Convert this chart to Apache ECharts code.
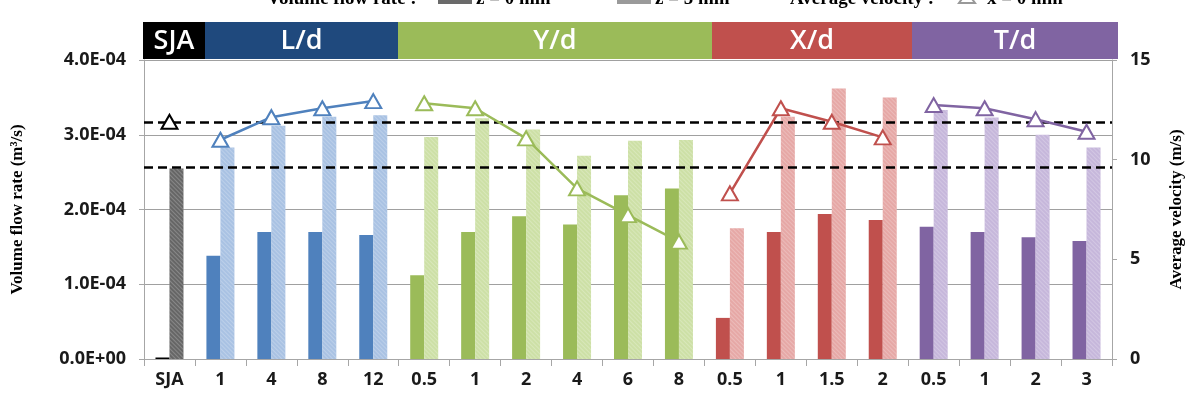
<!DOCTYPE html>
<html>
<head>
<meta charset="utf-8">
<script src="https://cdn.jsdelivr.net/npm/echarts@6/dist/echarts.min.js"></script>
<style>
  html, body { margin: 0; padding: 0; background: #fff; }
  #chart { width: 1200px; height: 396px; }
</style>
</head>
<body>
<div id="chart"></div>
<script>
// categories along the x axis and the group each one belongs to
const categories = ['SJA', '1', '4', '8', '12', '0.5', '1', '2', '4', '6', '8', '0.5', '1', '1.5', '2', '0.5', '1', '2', '3']
const groupOfCategory = [0, 1, 1, 1, 1, 2, 2, 2, 2, 2, 2, 3, 3, 3, 3, 4, 4, 4, 4]
const groupNames = ['SJA', 'L/d', 'Y/d', 'X/d', 'T/d']

// volume flow rate (m3/s)
const flowZ0 = [0.000002, 1.38e-4, 1.70e-4, 1.70e-4, 1.66e-4, 1.12e-4, 1.70e-4, 1.91e-4, 1.80e-4, 2.19e-4, 2.28e-4, 0.55e-4, 1.70e-4, 1.94e-4, 1.86e-4, 1.77e-4, 1.70e-4, 1.63e-4, 1.58e-4]
const flowZ5 = [2.55e-4, 2.83e-4, 3.12e-4, 3.24e-4, 3.26e-4, 2.97e-4, 3.22e-4, 3.07e-4, 2.72e-4, 2.92e-4, 2.93e-4, 1.75e-4, 3.24e-4, 3.62e-4, 3.50e-4, 3.33e-4, 3.23e-4, 3.00e-4, 2.83e-4]
// average velocity (m/s)
const velocityX0 = [11.9, 11.0, 12.13, 12.58, 12.94, 12.83, 12.58, 11.07, 8.56, 7.22, 5.89, 8.31, 12.58, 11.9, 11.12, 12.74, 12.58, 12.03, 11.4]
// dashed reference levels on the flow axis
const referenceFlow = [3.17e-4, 2.56e-4]

const flowTickLabels = ['0.0E+00', '1.0E-04', '2.0E-04', '3.0E-04', '4.0E-04']
const velocityTickLabels = ['0', '5', '10', '15']

const solidColors = ['#000000', '#4f81bd', '#9bbb59', '#c0504d', '#8064a2']
const hatchColors = ['#666666', '#a9c2e3', '#cde0a6', '#e6a8a6', '#c6b7db']
const bandColors = ['#000000', '#1f497d', '#9bbb59', '#c0504d', '#8064a2']
const bandEdgesPx = [143, 205, 398, 712, 912, 1118]

const tickFont = "'Open Sans', sans-serif"
const serif = "'Liberation Serif', 'DejaVu Serif', serif"
const axisGray = '#a6a6a6'

const hatchDecal = {
  symbol: 'rect',
  symbolSize: 1,
  color: 'rgba(255,255,255,0.22)',
  dashArrayX: [1, 0],
  dashArrayY: [1, 2],
  rotation: Math.PI / 4,
}

const chart = echarts.init(document.getElementById('chart'))

const bandGraphics = []
groupNames.forEach((name, g) => {
  const x0 = bandEdgesPx[g]
  const x1 = bandEdgesPx[g + 1]
  bandGraphics.push({
    type: 'rect',
    shape: { x: x0, y: 22, width: x1 - x0, height: 37 },
    style: { fill: bandColors[g] },
    silent: true,
  })
  bandGraphics.push({
    type: 'text',
    x: (x0 + x1) / 2,
    y: 41,
    style: {
      text: name,
      fill: '#fff',
      font: "600 27px 'Open Sans', sans-serif",
      textAlign: 'center',
      textVerticalAlign: 'middle',
    },
    silent: true,
  })
})

// legend sits partly above the page edge, as in the source figure
const legendFont = 'bold 19px ' + serif
const legendY = 9
const legendGraphics = [
  { type: 'text', x: 267, y: legendY, style: { text: 'Volume flow rate :', font: legendFont, fill: '#000', textVerticalAlign: 'bottom' } },
  { type: 'rect', shape: { x: 438, y: -8, width: 34, height: 12 }, style: { fill: '#6a6a6a', decal: hatchDecal } },
  { type: 'text', x: 476, y: legendY, style: { text: 'z = 0 mm', font: legendFont, fill: '#000', textVerticalAlign: 'bottom' } },
  { type: 'rect', shape: { x: 617, y: -8, width: 34, height: 12 }, style: { fill: '#9a9a9a', decal: hatchDecal } },
  { type: 'text', x: 655, y: legendY, style: { text: 'z = 5 mm', font: legendFont, fill: '#000', textVerticalAlign: 'bottom' } },
  { type: 'text', x: 790, y: legendY, style: { text: 'Average velocity :', font: legendFont, fill: '#000', textVerticalAlign: 'bottom' } },
  { type: 'line', shape: { x1: 952, y1: -2, x2: 983, y2: -2 }, style: { stroke: '#999', lineWidth: 2 } },
  { type: 'polygon', shape: { points: [[967, -8], [959, 3], [975, 3]] }, style: { fill: '#fff', stroke: '#999', lineWidth: 2 } },
  { type: 'text', x: 987, y: legendY, style: { text: 'x = 0 mm', font: legendFont, fill: '#000', textVerticalAlign: 'bottom' } },
]

const lineSeries = groupNames.map((name, g) => ({
  name: name + ' velocity',
  type: 'line',
  yAxisIndex: 1,
  data: velocityX0.map((v, i) => (groupOfCategory[i] === g ? v : null)),
  connectNulls: false,
  symbol: 'triangle',
  symbolSize: [16, 14],
  lineStyle: { color: solidColors[g], width: 2.5 },
  itemStyle: { color: '#fff', borderColor: solidColors[g], borderWidth: 2 },
  z: 5,
}))

const option = {
  animation: false,
  grid: { left: 144, right: 88, top: 60, bottom: 37 },
  xAxis: {
    type: 'category',
    data: categories,
    axisLine: { lineStyle: { color: axisGray, width: 1 } },
    axisTick: { show: true, length: 7, lineStyle: { color: axisGray } },
    axisLabel: {
      interval: 0,
      margin: 12,
      color: '#1a1a1a',
      fontSize: 18,
      fontWeight: 'bold',
      fontFamily: tickFont,
    },
  },
  yAxis: [
    {
      type: 'value',
      min: 0,
      max: 4e-4,
      interval: 1e-4,
      name: 'Volume flow rate (m³/s)',
      nameLocation: 'middle',
      nameGap: 118,
      nameTextStyle: { fontFamily: serif, fontWeight: 'bold', fontSize: 17, color: '#000' },
      axisLine: { show: true, lineStyle: { color: axisGray } },
      axisTick: { show: true, length: 5, lineStyle: { color: axisGray } },
      splitLine: { show: true, lineStyle: { color: '#a0a0a0', width: 1 } },
      axisLabel: {
        margin: 18,
        color: '#1a1a1a',
        fontSize: 18,
        fontWeight: 'bold',
        fontFamily: tickFont,
        formatter: (v) => flowTickLabels[Math.round(v / 1e-4)],
      },
    },
    {
      type: 'value',
      min: 0,
      max: 15,
      interval: 5,
      name: 'Average velocity (m/s)',
      nameLocation: 'middle',
      nameRotate: 90,
      nameGap: 56,
      nameTextStyle: { fontFamily: serif, fontWeight: 'bold', fontSize: 17, color: '#000' },
      axisLine: { show: true, lineStyle: { color: axisGray } },
      axisTick: { show: true, length: 5, lineStyle: { color: axisGray } },
      splitLine: { show: false },
      axisLabel: {
        margin: 18,
        color: '#1a1a1a',
        fontSize: 18,
        fontWeight: 'bold',
        fontFamily: tickFont,
        formatter: (v) => velocityTickLabels[Math.round(v / 5)],
      },
    },
  ],
  series: [
    {
      name: 'z = 0 mm',
      type: 'bar',
      barWidth: 14,
      barGap: '0%',
      data: flowZ0.map((v, i) => ({ value: v, itemStyle: { color: solidColors[groupOfCategory[i]] } })),
    },
    {
      name: 'z = 5 mm',
      type: 'bar',
      barWidth: 14,
      data: flowZ5.map((v, i) => ({
        value: v,
        itemStyle: { color: hatchColors[groupOfCategory[i]], decal: hatchDecal },
      })),
      markLine: {
        silent: true,
        symbol: 'none',
        precision: 10,
        label: { show: false },
        lineStyle: { color: '#000', width: 2.5, type: [9, 5] },
        data: referenceFlow.map((v) => ({ yAxis: v })),
        z: 4,
      },
    },
    ...lineSeries,
  ],
  graphic: [...bandGraphics, ...legendGraphics],
}

chart.setOption(option)
</script>
</body>
</html>
